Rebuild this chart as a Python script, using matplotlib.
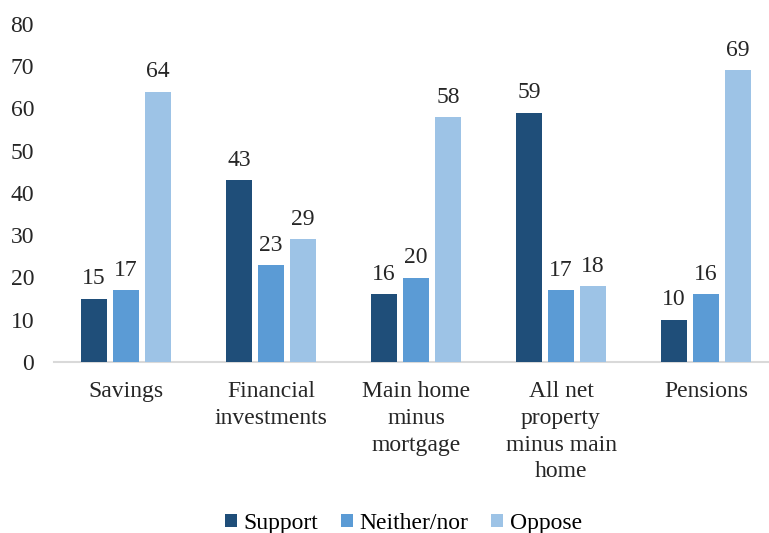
import matplotlib
matplotlib.use("Agg")
import matplotlib.pyplot as plt
import numpy as np

categories = ["Savings", "Financial\ninvestments", "Main home\nminus\nmortgage",
              "All net\nproperty\nminus main\nhome", "Pensions"]
support = [15, 43, 16, 59, 10]
neither = [17, 23, 20, 17, 16]
oppose = [64, 29, 58, 18, 69]
series_names = ["Support", "Neither/nor", "Oppose"]
colors = ["#1F4E79", "#5B9BD5", "#9DC3E6"]
yticks = [0, 10, 20, 30, 40, 50, 60, 70, 80]

plt.rcParams["font.family"] = ["Liberation Serif", "DejaVu Serif"]
FS = 17

fig = plt.figure(figsize=(7.69, 5.33), dpi=100)
ax = fig.add_axes([53.5 / 769, 1 - 362 / 533, 725 / 769, 338 / 533])

x = np.arange(len(categories))
width = 0.18
step = 0.22
for i, (vals, name, c) in enumerate(zip([support, neither, oppose], series_names, colors)):
    pos = x + (i - 1) * step
    bars = ax.bar(pos, vals, width, color=c, label=name, zorder=3)
    for b, v in zip(bars, vals):
        ax.text(b.get_x() + b.get_width() / 2, v + 2.2, f"{v}", ha="center", va="bottom",
                fontsize=FS, color="#262626")

ax.set_xlim(-0.5, len(categories) - 0.5)
ax.set_ylim(0, 80)
ax.set_yticks(yticks)
ax.set_xticks(x)
ax.set_xticklabels(categories, linespacing=1.35)
ax.tick_params(axis="both", length=0, labelsize=FS, colors="#262626")
ax.tick_params(axis="x", pad=14)
ax.tick_params(axis="y", pad=14)
for s in ["top", "right", "left"]:
    ax.spines[s].set_visible(False)
ax.spines["bottom"].set_color("#D9D9D9")
ax.spines["bottom"].set_linewidth(1.5)

fig.legend(loc="lower center", bbox_to_anchor=(403.5 / 769, -0.042), ncol=3, frameon=False,
           fontsize=FS, handlelength=0.5, handleheight=0.5, handletextpad=0.3,
           columnspacing=0.95)

fig.savefig("out.png", dpi=100)
